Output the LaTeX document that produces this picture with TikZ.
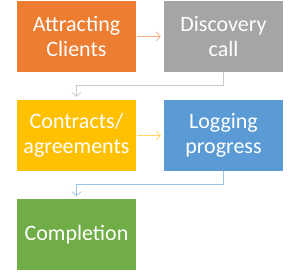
\documentclass[tikz,border=0pt]{standalone}
\usepackage{fontspec}
\setsansfont{Carlito}
\usetikzlibrary{arrows.meta}
\definecolor{FlowOrange}{HTML}{ED7D31}
\definecolor{FlowGray}{HTML}{A5A5A5}
\definecolor{FlowGold}{HTML}{FFC000}
\definecolor{FlowBlue}{HTML}{5B9BD5}
\definecolor{FlowGreen}{HTML}{70AD47}
\definecolor{FlowOrangeLink}{HTML}{F4B183}
\definecolor{FlowGrayLink}{HTML}{C9C9C9}
\definecolor{FlowGoldLink}{HTML}{FFD966}
\definecolor{FlowBlueLink}{HTML}{9DC3E6}

\begin{document}
\begin{tikzpicture}[x=1pt,y=-1pt,font=\sffamily\fontsize{22}{25}\selectfont,
  stagebox/.style={text=white,minimum width=119pt,minimum height=71pt,inner sep=0pt,align=center},
  flowlink/.style={line width=0.8pt,-{Straight Barb[length=4pt,width=9pt]}}]
  \useasboundingbox (0,0) rectangle (300,272);
  \node[stagebox,fill=FlowOrange] (attract) at (76.5,36.5) {Attracting\\Clients};
  \node[stagebox,fill=FlowGray] (discover) at (223.5,36.5) {Discovery\\call};
  \node[stagebox,fill=FlowGold] (contract) at (76.5,135.5) {Contracts/\\agreements};
  \node[stagebox,fill=FlowBlue] (logging) at (223.5,135.5) {Logging\\progress};
  \node[stagebox,fill=FlowGreen] (complete) at (76.5,235) {Completion};

  \draw[flowlink,draw=FlowOrangeLink,shorten <=1pt,shorten >=3pt] (attract) -- (discover);
  \draw[flowlink,draw=FlowGrayLink,shorten >=3pt] (discover.south) -- ++(0,13) -| (contract.north);
  \draw[flowlink,draw=FlowGoldLink,shorten <=1pt,shorten >=3pt] (contract) -- (logging);
  \draw[flowlink,draw=FlowBlueLink,shorten >=3pt] (logging.south) -- ++(0,13) -| (complete.north);
\end{tikzpicture}
\end{document}
